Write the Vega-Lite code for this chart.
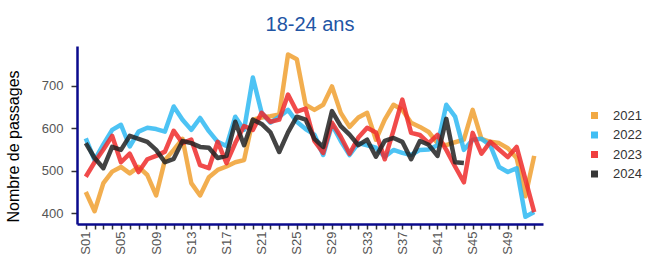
{
  "$schema": "https://vega.github.io/schema/vega-lite/v6.json",
  "width": 466,
  "height": 178,
  "autosize": {"type": "none"},
  "padding": {"left": 77, "top": 46, "right": 110, "bottom": 44},
  "background": "white",
  "config": {"view": {"stroke": null}, "font": "Liberation Sans"},
  "title": {"text": "18-24 ans", "color": "#2255A4", "fontSize": 20, "fontWeight": "normal", "font": "Liberation Sans", "anchor": "middle", "offset": 11},
  "data": {"values": [
    {"annee":"2021","semaine":"S01","passages":450},{"annee":"2021","semaine":"S02","passages":405},{"annee":"2021","semaine":"S03","passages":471},{"annee":"2021","semaine":"S04","passages":498},{"annee":"2021","semaine":"S05","passages":509},{"annee":"2021","semaine":"S06","passages":494},{"annee":"2021","semaine":"S07","passages":509},{"annee":"2021","semaine":"S08","passages":490},{"annee":"2021","semaine":"S09","passages":442},{"annee":"2021","semaine":"S10","passages":525},{"annee":"2021","semaine":"S11","passages":549},{"annee":"2021","semaine":"S12","passages":575},{"annee":"2021","semaine":"S13","passages":471},{"annee":"2021","semaine":"S14","passages":442},{"annee":"2021","semaine":"S15","passages":485},{"annee":"2021","semaine":"S16","passages":502},{"annee":"2021","semaine":"S17","passages":510},{"annee":"2021","semaine":"S18","passages":520},{"annee":"2021","semaine":"S19","passages":525},{"annee":"2021","semaine":"S20","passages":620},{"annee":"2021","semaine":"S21","passages":625},{"annee":"2021","semaine":"S22","passages":628},{"annee":"2021","semaine":"S23","passages":632},{"annee":"2021","semaine":"S24","passages":773},{"annee":"2021","semaine":"S25","passages":762},{"annee":"2021","semaine":"S26","passages":655},{"annee":"2021","semaine":"S27","passages":643},{"annee":"2021","semaine":"S28","passages":655},{"annee":"2021","semaine":"S29","passages":698},{"annee":"2021","semaine":"S30","passages":636},{"annee":"2021","semaine":"S31","passages":603},{"annee":"2021","semaine":"S32","passages":625},{"annee":"2021","semaine":"S33","passages":636},{"annee":"2021","semaine":"S34","passages":573},{"annee":"2021","semaine":"S35","passages":620},{"annee":"2021","semaine":"S36","passages":655},{"annee":"2021","semaine":"S37","passages":643},{"annee":"2021","semaine":"S38","passages":613},{"annee":"2021","semaine":"S39","passages":603},{"annee":"2021","semaine":"S40","passages":591},{"annee":"2021","semaine":"S41","passages":565},{"annee":"2021","semaine":"S42","passages":560},{"annee":"2021","semaine":"S43","passages":567},{"annee":"2021","semaine":"S44","passages":573},{"annee":"2021","semaine":"S45","passages":643},{"annee":"2021","semaine":"S46","passages":575},{"annee":"2021","semaine":"S47","passages":568},{"annee":"2021","semaine":"S48","passages":565},{"annee":"2021","semaine":"S49","passages":553},{"annee":"2021","semaine":"S50","passages":530},{"annee":"2021","semaine":"S51","passages":440},{"annee":"2021","semaine":"S52","passages":535},
    {"annee":"2022","semaine":"S01","passages":576},{"annee":"2022","semaine":"S02","passages":525},{"annee":"2022","semaine":"S03","passages":562},{"annee":"2022","semaine":"S04","passages":596},{"annee":"2022","semaine":"S05","passages":608},{"annee":"2022","semaine":"S06","passages":557},{"annee":"2022","semaine":"S07","passages":592},{"annee":"2022","semaine":"S08","passages":601},{"annee":"2022","semaine":"S09","passages":598},{"annee":"2022","semaine":"S10","passages":592},{"annee":"2022","semaine":"S11","passages":651},{"annee":"2022","semaine":"S12","passages":620},{"annee":"2022","semaine":"S13","passages":596},{"annee":"2022","semaine":"S14","passages":624},{"annee":"2022","semaine":"S15","passages":593},{"annee":"2022","semaine":"S16","passages":568},{"annee":"2022","semaine":"S17","passages":558},{"annee":"2022","semaine":"S18","passages":627},{"annee":"2022","semaine":"S19","passages":596},{"annee":"2022","semaine":"S20","passages":719},{"annee":"2022","semaine":"S21","passages":636},{"annee":"2022","semaine":"S22","passages":613},{"annee":"2022","semaine":"S23","passages":627},{"annee":"2022","semaine":"S24","passages":643},{"annee":"2022","semaine":"S25","passages":615},{"annee":"2022","semaine":"S26","passages":598},{"annee":"2022","semaine":"S27","passages":585},{"annee":"2022","semaine":"S28","passages":537},{"annee":"2022","semaine":"S29","passages":608},{"annee":"2022","semaine":"S30","passages":570},{"annee":"2022","semaine":"S31","passages":537},{"annee":"2022","semaine":"S32","passages":565},{"annee":"2022","semaine":"S33","passages":560},{"annee":"2022","semaine":"S34","passages":554},{"annee":"2022","semaine":"S35","passages":533},{"annee":"2022","semaine":"S36","passages":549},{"annee":"2022","semaine":"S37","passages":542},{"annee":"2022","semaine":"S38","passages":537},{"annee":"2022","semaine":"S39","passages":549},{"annee":"2022","semaine":"S40","passages":550},{"annee":"2022","semaine":"S41","passages":560},{"annee":"2022","semaine":"S42","passages":655},{"annee":"2022","semaine":"S43","passages":627},{"annee":"2022","semaine":"S44","passages":549},{"annee":"2022","semaine":"S45","passages":573},{"annee":"2022","semaine":"S46","passages":575},{"annee":"2022","semaine":"S47","passages":560},{"annee":"2022","semaine":"S48","passages":509},{"annee":"2022","semaine":"S49","passages":497},{"annee":"2022","semaine":"S50","passages":506},{"annee":"2022","semaine":"S51","passages":392},{"annee":"2022","semaine":"S52","passages":403},
    {"annee":"2023","semaine":"S01","passages":486},{"annee":"2023","semaine":"S02","passages":520},{"annee":"2023","semaine":"S03","passages":550},{"annee":"2023","semaine":"S04","passages":582},{"annee":"2023","semaine":"S05","passages":520},{"annee":"2023","semaine":"S06","passages":540},{"annee":"2023","semaine":"S07","passages":497},{"annee":"2023","semaine":"S08","passages":527},{"annee":"2023","semaine":"S09","passages":535},{"annee":"2023","semaine":"S10","passages":545},{"annee":"2023","semaine":"S11","passages":594},{"annee":"2023","semaine":"S12","passages":565},{"annee":"2023","semaine":"S13","passages":573},{"annee":"2023","semaine":"S14","passages":513},{"annee":"2023","semaine":"S15","passages":506},{"annee":"2023","semaine":"S16","passages":568},{"annee":"2023","semaine":"S17","passages":518},{"annee":"2023","semaine":"S18","passages":565},{"annee":"2023","semaine":"S19","passages":605},{"annee":"2023","semaine":"S20","passages":596},{"annee":"2023","semaine":"S21","passages":636},{"annee":"2023","semaine":"S22","passages":615},{"annee":"2023","semaine":"S23","passages":620},{"annee":"2023","semaine":"S24","passages":679},{"annee":"2023","semaine":"S25","passages":639},{"annee":"2023","semaine":"S26","passages":646},{"annee":"2023","semaine":"S27","passages":570},{"annee":"2023","semaine":"S28","passages":542},{"annee":"2023","semaine":"S29","passages":613},{"annee":"2023","semaine":"S30","passages":580},{"annee":"2023","semaine":"S31","passages":540},{"annee":"2023","semaine":"S32","passages":578},{"annee":"2023","semaine":"S33","passages":601},{"annee":"2023","semaine":"S34","passages":590},{"annee":"2023","semaine":"S35","passages":527},{"annee":"2023","semaine":"S36","passages":595},{"annee":"2023","semaine":"S37","passages":667},{"annee":"2023","semaine":"S38","passages":589},{"annee":"2023","semaine":"S39","passages":584},{"annee":"2023","semaine":"S40","passages":565},{"annee":"2023","semaine":"S41","passages":584},{"annee":"2023","semaine":"S42","passages":549},{"annee":"2023","semaine":"S43","passages":510},{"annee":"2023","semaine":"S44","passages":473},{"annee":"2023","semaine":"S45","passages":589},{"annee":"2023","semaine":"S46","passages":540},{"annee":"2023","semaine":"S47","passages":568},{"annee":"2023","semaine":"S48","passages":550},{"annee":"2023","semaine":"S49","passages":532},{"annee":"2023","semaine":"S50","passages":556},{"annee":"2023","semaine":"S51","passages":480},{"annee":"2023","semaine":"S52","passages":403},
    {"annee":"2024","semaine":"S01","passages":565},{"annee":"2024","semaine":"S02","passages":530},{"annee":"2024","semaine":"S03","passages":506},{"annee":"2024","semaine":"S04","passages":556},{"annee":"2024","semaine":"S05","passages":549},{"annee":"2024","semaine":"S06","passages":582},{"annee":"2024","semaine":"S07","passages":575},{"annee":"2024","semaine":"S08","passages":568},{"annee":"2024","semaine":"S09","passages":549},{"annee":"2024","semaine":"S10","passages":520},{"annee":"2024","semaine":"S11","passages":528},{"annee":"2024","semaine":"S12","passages":570},{"annee":"2024","semaine":"S13","passages":565},{"annee":"2024","semaine":"S14","passages":556},{"annee":"2024","semaine":"S15","passages":554},{"annee":"2024","semaine":"S16","passages":530},{"annee":"2024","semaine":"S17","passages":535},{"annee":"2024","semaine":"S18","passages":615},{"annee":"2024","semaine":"S19","passages":560},{"annee":"2024","semaine":"S20","passages":620},{"annee":"2024","semaine":"S21","passages":610},{"annee":"2024","semaine":"S22","passages":590},{"annee":"2024","semaine":"S23","passages":544},{"annee":"2024","semaine":"S24","passages":590},{"annee":"2024","semaine":"S25","passages":627},{"annee":"2024","semaine":"S26","passages":620},{"annee":"2024","semaine":"S27","passages":575},{"annee":"2024","semaine":"S28","passages":556},{"annee":"2024","semaine":"S29","passages":640},{"annee":"2024","semaine":"S30","passages":605},{"annee":"2024","semaine":"S31","passages":585},{"annee":"2024","semaine":"S32","passages":560},{"annee":"2024","semaine":"S33","passages":573},{"annee":"2024","semaine":"S34","passages":533},{"annee":"2024","semaine":"S35","passages":570},{"annee":"2024","semaine":"S36","passages":577},{"annee":"2024","semaine":"S37","passages":568},{"annee":"2024","semaine":"S38","passages":527},{"annee":"2024","semaine":"S39","passages":570},{"annee":"2024","semaine":"S40","passages":561},{"annee":"2024","semaine":"S41","passages":535},{"annee":"2024","semaine":"S42","passages":622},{"annee":"2024","semaine":"S43","passages":520},{"annee":"2024","semaine":"S44","passages":518}
  ]},
  "mark": {"type": "line", "strokeWidth": 4.5, "opacity": 0.85, "strokeJoin": "round"},
  "encoding": {
    "x": {
      "field": "semaine", "type": "ordinal",
      "scale": {"type": "point", "padding": 2.8},
      "axis": {
        "title": null,
        "labelAngle": 270,
        "labelExpr": "indexof(['S01','S05','S09','S13','S17','S21','S25','S29','S33','S37','S41','S45','S49'], datum.value) >= 0 ? datum.value : ''",
        "labelOverlap": false,
        "labelFontSize": 13,
        "labelColor": "#555555",
        "labelPadding": 2,
        "labelFont": "Liberation Sans",
        "domainColor": "#0A0A8C",
        "domainWidth": 2.5,
        "tickColor": "#333333",
        "tickSize": 5,
        "tickWidth": 1.5,
        "grid": false
      }
    },
    "y": {
      "field": "passages", "type": "quantitative",
      "scale": {"domain": [375, 793], "nice": false, "zero": false},
      "axis": {
        "title": "Nombre de passages",
        "titleFontSize": 16,
        "titleFontWeight": "normal",
        "titleColor": "#000000",
        "titleFont": "Liberation Sans",
        "titleX": -56,
        "titleY": 100,
        "values": [400, 500, 600, 700],
        "labelFontSize": 13,
        "labelColor": "#555555",
        "labelFont": "Liberation Sans",
        "labelPadding": 8,
        "domainColor": "#0A0A8C",
        "domainWidth": 2.5,
        "tickColor": "#333333",
        "tickSize": 6,
        "tickWidth": 1.5,
        "grid": false
      }
    },
    "color": {
      "field": "annee", "type": "nominal",
      "scale": {"domain": ["2021", "2022", "2023", "2024"], "range": ["#F0A030", "#2EB8F2", "#EE2B2B", "#222222"]},
      "legend": {
        "title": null,
        "orient": "none",
        "legendX": 511,
        "legendY": 63,
        "padding": 0,
        "symbolType": "square",
        "symbolSize": 9,
        "symbolStrokeWidth": 4,
        "symbolOpacity": 0.9,
        "labelFontSize": 13,
        "labelColor": "#333333",
        "labelFont": "Liberation Sans",
        "labelOffset": 12,
        "rowPadding": 0.5
      }
    }
  }
}
